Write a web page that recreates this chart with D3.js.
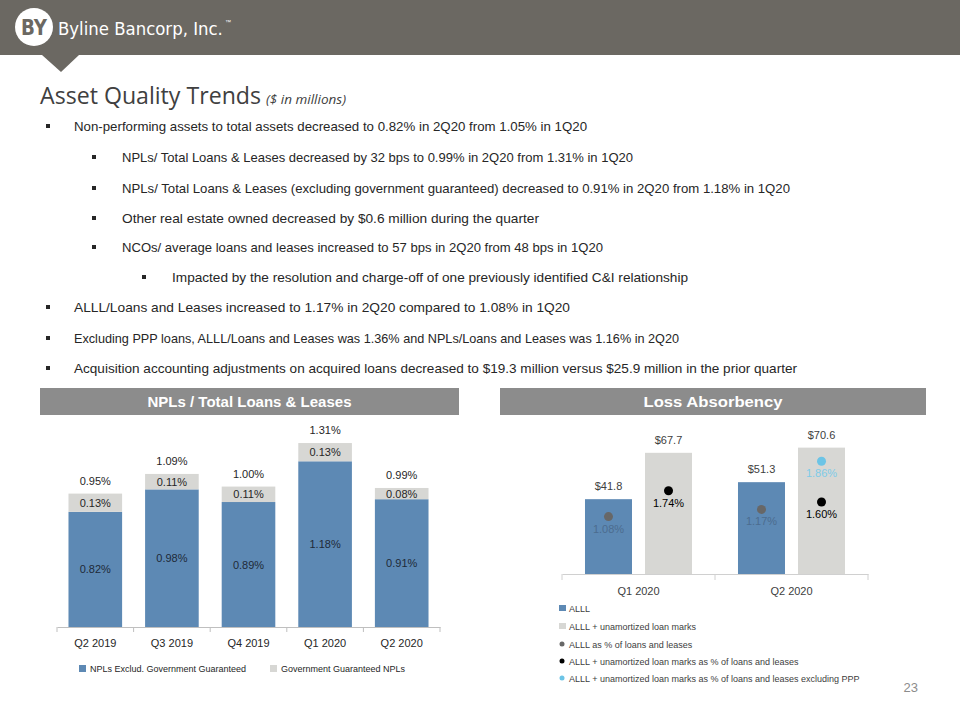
<!DOCTYPE html>
<html>
<head>
<meta charset="utf-8">
<script src="https://cdn.jsdelivr.net/npm/d3@7"></script>
<style>
  html, body { margin: 0; padding: 0; background: #ffffff; }
  svg { display: block; }
</style>
</head>
<body>
<svg id="chart" width="960" height="720"></svg>
<script>
// ---------------- DATA ----------------
const nplCategories = ["Q2 2019", "Q3 2019", "Q4 2019", "Q1 2020", "Q2 2020"];
const nplExclGov = [0.82, 0.98, 0.89, 1.18, 0.91];
const nplGovGuaranteed = [0.13, 0.11, 0.11, 0.13, 0.08];
const nplTotal = [0.95, 1.09, 1.00, 1.31, 0.99];
const nplLegend = ["NPLs Exclud. Government Guaranteed", "Government Guaranteed NPLs"];

const lossCategories = ["Q1 2020", "Q2 2020"];
const alll = [41.8, 51.3];
const alllPlusMarks = [67.7, 70.6];
const alllPct = [1.08, 1.17];
const alllMarksPct = [1.74, 1.60];
const alllMarksPctExPPP = [null, 1.86];
const lossLegend = [
  "ALLL",
  "ALLL + unamortized loan marks",
  "ALLL as % of loans and leases",
  "ALLL + unamortized loan marks as % of loans and leases",
  "ALLL + unamortized loan marks as % of loans and leases excluding PPP"
];

const bullets = [
  { level: 1, text: "Non-performing assets to total assets decreased to 0.82% in 2Q20  from 1.05% in 1Q20", w: 513 },
  { level: 2, text: "NPLs/ Total Loans & Leases decreased by 32 bps to 0.99% in 2Q20 from 1.31% in 1Q20", w: 511 },
  { level: 2, text: "NPLs/ Total Loans & Leases (excluding government guaranteed) decreased to 0.91% in 2Q20  from 1.18% in 1Q20", w: 668 },
  { level: 2, text: "Other real estate owned decreased by $0.6 million during the quarter", w: 417 },
  { level: 2, text: "NCOs/ average loans and leases increased to 57 bps in 2Q20 from 48 bps in 1Q20", w: 481 },
  { level: 3, text: "Impacted by the resolution and charge-off of one previously identified C&I relationship", w: 516 },
  { level: 1, text: "ALLL/Loans and Leases increased to 1.17% in 2Q20  compared to 1.08% in 1Q20", w: 496 },
  { level: 1, text: "Excluding PPP loans, ALLL/Loans and Leases was 1.36% and NPLs/Loans and Leases was 1.16% in 2Q20", w: 605 },
  { level: 1, text: "Acquisition accounting adjustments on acquired loans decreased to $19.3 million versus $25.9 million in the prior quarter", w: 723 }
];

// ---------------- STYLE ----------------
const BLUE = "#5d89b4";
const GREY = "#d7d7d4";
const HEADER = "#6b6862";
const SECTION = "#8c8c8c";
const TEXT = "#262626";
const FONT = "'Liberation Sans', Arial, sans-serif";

const svg = d3.select("#chart").style("font-family", FONT);

// ---------------- HEADER ----------------
svg.append("rect").attr("x", 0).attr("y", 0).attr("width", 960).attr("height", 55).attr("fill", HEADER);
svg.append("path").attr("d", "M42,55 L79,55 L61,72 Z").attr("fill", HEADER);
svg.append("circle").attr("cx", 34).attr("cy", 27).attr("r", 19).attr("fill", "#ffffff");
svg.append("text").attr("x", 34).attr("y", 35).attr("text-anchor", "middle")
  .attr("font-size", 22).attr("font-weight", "bold").attr("fill", HEADER)
  .attr("font-family", "'DejaVu Sans Condensed', 'Liberation Sans Narrow', sans-serif")
  .attr("textLength", 26).attr("lengthAdjust", "spacingAndGlyphs").text("BY");
const nameText = svg.append("text").attr("x", 58).attr("y", 35).attr("font-size", 22).attr("fill", "#ffffff")
  .attr("font-family", "'Liberation Sans Narrow', 'DejaVu Sans Condensed', sans-serif")
  .text("Byline Bancorp, Inc.");
// fit the natural width of the name to the logo's width (about 165px)
const natW = nameText.node().getComputedTextLength();
const nameSize = Math.min(26, 22 * 165 / natW);
nameText.attr("font-size", nameSize);
svg.append("text").attr("x", 58 + 22 * 165 / natW * natW / 22 + 2).attr("y", 24).attr("font-size", 6)
  .attr("fill", "#ffffff").text("™");

// ---------------- TITLE ----------------
svg.append("text").attr("x", 40).attr("y", 104).attr("font-size", 24).attr("fill", "#404040")
  .attr("font-family", "'Open Sans', sans-serif")
  .attr("textLength", 221).attr("lengthAdjust", "spacingAndGlyphs").text("Asset Quality Trends");
svg.append("text").attr("x", 266).attr("y", 104).attr("font-size", 13).attr("fill", "#404040")
  .attr("font-style", "italic").attr("font-family", "'Open Sans', sans-serif")
  .attr("textLength", 80).attr("lengthAdjust", "spacingAndGlyphs").text("($ in millions)");

// ---------------- BULLETS ----------------
const bulletX = { 1: 46, 2: 92, 3: 142 };
const textX = { 1: 74, 2: 122, 3: 172 };
const baselines = [131, 162, 193, 223, 252, 282, 312, 343, 373];
const bl = svg.append("g").selectAll("g").data(bullets).join("g");
bl.append("rect").attr("x", d => bulletX[d.level]).attr("y", (d, i) => baselines[i] - 7)
  .attr("width", 4).attr("height", 4).attr("fill", TEXT);
bl.append("text").attr("x", d => textX[d.level]).attr("y", (d, i) => baselines[i])
  .attr("font-size", 13).attr("fill", TEXT)
  .attr("textLength", d => d.w).attr("lengthAdjust", "spacingAndGlyphs").text(d => d.text);

// ---------------- SECTION HEADERS ----------------
function sectionHeader(x, w, label, tl) {
  svg.append("rect").attr("x", x).attr("y", 388).attr("width", w).attr("height", 27).attr("fill", SECTION);
  svg.append("text").attr("x", x + w / 2).attr("y", 407).attr("text-anchor", "middle")
    .attr("font-size", 15).attr("font-weight", "bold").attr("fill", "#ffffff")
    .attr("textLength", tl).attr("lengthAdjust", "spacingAndGlyphs").text(label);
}
sectionHeader(40, 419, "NPLs / Total Loans & Leases", 204);
sectionHeader(500, 426, "Loss Absorbency", 139);

// ---------------- LEFT CHART ----------------
const fmtPct = d => d.toFixed(2) + "%";
const x1 = d3.scaleBand().domain(nplCategories).range([57, 440]).paddingInner(0.3).paddingOuter(0.15);
const y1 = d3.scaleLinear().domain([0, 1.4]).range([627, 430.4]);
const left = svg.append("g");

nplCategories.forEach((c, i) => {
  const bx = x1(c), bw = x1.bandwidth(), cx = bx + bw / 2;
  const top1 = y1(nplExclGov[i]);
  const top2 = y1(nplExclGov[i] + nplGovGuaranteed[i]);
  left.append("rect").attr("x", bx).attr("y", top1).attr("width", bw).attr("height", y1(0) - top1).attr("fill", BLUE);
  left.append("rect").attr("x", bx).attr("y", top2).attr("width", bw).attr("height", top1 - top2).attr("fill", GREY);
  left.append("text").attr("x", cx).attr("y", (top1 + y1(0)) / 2 + 4).attr("text-anchor", "middle")
    .attr("font-size", 11).attr("fill", "#1e2a38").text(fmtPct(nplExclGov[i]));
  left.append("text").attr("x", cx).attr("y", (top1 + top2) / 2 + 4).attr("text-anchor", "middle")
    .attr("font-size", 11).attr("fill", "#262626").text(fmtPct(nplGovGuaranteed[i]));
  left.append("text").attr("x", cx).attr("y", y1(nplTotal[i]) - 9).attr("text-anchor", "middle")
    .attr("font-size", 11).attr("fill", "#262626").text(fmtPct(nplTotal[i]));
});

const ax1 = left.append("g").attr("transform", "translate(0,627)")
  .call(d3.axisBottom(x1).tickSize(0).tickPadding(12));
ax1.select(".domain").attr("stroke", "#bfbfbf");
ax1.selectAll("text").attr("font-size", 11).attr("fill", "#262626").attr("font-family", FONT);
const bounds1 = nplCategories.map(c => x1(c) - x1.step() * x1.paddingInner() / 2);
bounds1.push(440);
bounds1[0] = 57;
left.selectAll("line.tk").data(bounds1).join("line").attr("class", "tk")
  .attr("x1", d => d).attr("x2", d => d).attr("y1", 627).attr("y2", 632).attr("stroke", "#bfbfbf");

// legend left
const lg1 = [{ x: 79, c: BLUE, t: nplLegend[0] }, { x: 270, c: GREY, t: nplLegend[1] }];
lg1.forEach(d => {
  left.append("rect").attr("x", d.x).attr("y", 665).attr("width", 7).attr("height", 7).attr("fill", d.c);
  left.append("text").attr("x", d.x + 11).attr("y", 672).attr("font-size", 9).attr("fill", "#262626").text(d.t);
});

// ---------------- RIGHT CHART ----------------
const x2 = d3.scaleBand().domain(lossCategories).range([562, 868]);
const sub = d3.scaleBand().domain(["alll", "marks"]).range([0, x2.bandwidth()]).paddingInner(0.217).paddingOuter(0.383);
const y2 = d3.scaleLinear().domain([0, 80]).range([574, 430.8]);
// each percentage series sits on its own secondary-axis placement (as in the original)
const yPctAlll = d3.scaleLinear().domain([0, 2.5]).range([603, 403]);
const yPctMarks = d3.scaleLinear().domain([0, 2.5]).range([630, 430]);
const yPctExPPP = d3.scaleLinear().domain([0, 2.5]).range([610, 410]);
const right = svg.append("g");

lossCategories.forEach((c, i) => {
  const ax = x2(c) + sub("alll"), mx = x2(c) + sub("marks"), bw = sub.bandwidth();
  right.append("rect").attr("x", ax).attr("y", y2(alll[i])).attr("width", bw).attr("height", y2(0) - y2(alll[i])).attr("fill", BLUE);
  right.append("rect").attr("x", mx).attr("y", y2(alllPlusMarks[i])).attr("width", bw).attr("height", y2(0) - y2(alllPlusMarks[i])).attr("fill", GREY);
  right.append("text").attr("x", ax + bw / 2).attr("y", y2(alll[i]) - 9).attr("text-anchor", "middle")
    .attr("font-size", 11).attr("fill", "#404040").text("$" + alll[i].toFixed(1));
  right.append("text").attr("x", mx + bw / 2).attr("y", y2(alllPlusMarks[i]) - 9).attr("text-anchor", "middle")
    .attr("font-size", 11).attr("fill", "#404040").text("$" + alllPlusMarks[i].toFixed(1));

  const dots = [
    { v: alllPct[i], s: yPctAlll, cx: ax + bw / 2, fill: "#676767", lab: "#4c6c8f" },
    { v: alllMarksPct[i], s: yPctMarks, cx: mx + bw / 2, fill: "#000000", lab: "#000000" },
    { v: alllMarksPctExPPP[i], s: yPctExPPP, cx: mx + bw / 2, fill: "#6cc4e6", lab: "#7ecbe8" }
  ];
  dots.filter(d => d.v != null).forEach(d => {
    right.append("circle").attr("cx", d.cx).attr("cy", d.s(d.v)).attr("r", 4.5).attr("fill", d.fill);
    right.append("text").attr("x", d.cx).attr("y", d.s(d.v) + 16).attr("text-anchor", "middle")
      .attr("font-size", 11).attr("fill", d.lab).text(fmtPct(d.v));
  });
});

const ax2 = right.append("g").attr("transform", "translate(0,574)")
  .call(d3.axisBottom(x2).tickSize(0).tickPadding(13));
ax2.select(".domain").attr("stroke", "#d0d0d0");
ax2.selectAll("text").attr("font-size", 11).attr("fill", "#404040").attr("font-family", FONT);
const bounds2 = [562, x2(lossCategories[1]), 868];
right.selectAll("line.tk").data(bounds2).join("line").attr("class", "tk")
  .attr("x1", d => d).attr("x2", d => d).attr("y1", 574).attr("y2", 580).attr("stroke", "#d0d0d0");

// legend right
const lg2 = [
  { t: lossLegend[0], type: "rect", c: BLUE },
  { t: lossLegend[1], type: "rect", c: GREY },
  { t: lossLegend[2], type: "circle", c: "#676767" },
  { t: lossLegend[3], type: "circle", c: "#000000" },
  { t: lossLegend[4], type: "circle", c: "#6cc4e6" }
];
const lgY = [608, 626, 644, 661, 678];
lg2.forEach((d, i) => {
  if (d.type === "rect") {
    right.append("rect").attr("x", 559).attr("y", lgY[i] - 3).attr("width", 7).attr("height", 6).attr("fill", d.c);
  } else {
    right.append("circle").attr("cx", 562).attr("cy", lgY[i]).attr("r", 2.5).attr("fill", d.c);
  }
  right.append("text").attr("x", 569).attr("y", lgY[i] + 3.5).attr("font-size", 9).attr("fill", "#404040").text(d.t);
});

// page number
svg.append("text").attr("x", 918).attr("y", 692).attr("text-anchor", "end")
  .attr("font-size", 13).attr("fill", "#8c8c8c").text("23");
</script>
</body>
</html>
